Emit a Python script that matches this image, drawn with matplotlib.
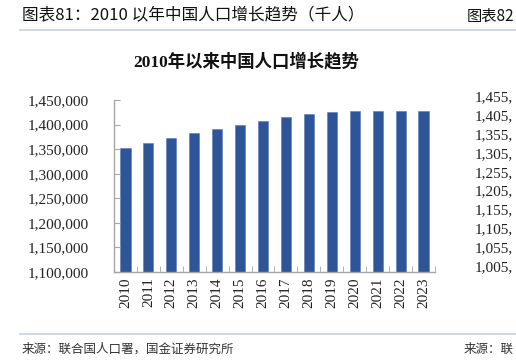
import numpy as np
import matplotlib
matplotlib.use("Agg")
import matplotlib.pyplot as plt
from matplotlib.lines import Line2D
from matplotlib.ticker import FuncFormatter

years = ['2010', '2011', '2012', '2013', '2014', '2015', '2016',
         '2017', '2018', '2019', '2020', '2021', '2022', '2023']
population = [1352900, 1362500, 1372700, 1382200, 1390300, 1399100, 1407300,
              1415400, 1421500, 1425600, 1427600, 1427600, 1427600, 1427000]
yticks = [1100000, 1150000, 1200000, 1250000, 1300000, 1350000, 1400000, 1450000]
# labels of the next chart, as far as they show before the page edge
right_labels = ['1,455,', '1,405,', '1,355,', '1,305,', '1,255,',
                '1,205,', '1,155,', '1,105,', '1,055,', '1,005,']

serif = ['Liberation Serif', 'Noto Sans CJK SC']
cjk = ['Noto Sans CJK SC', 'DejaVu Sans']

W, H = 516, 360
fig = plt.figure(figsize=(W / 100, H / 100), dpi=100)
ax = fig.add_axes([114 / W, 1 - 272 / H, 321 / W, 172 / H])

x = np.arange(len(years))
ax.bar(x, population, width=0.44, color='#2E5597', edgecolor='#5a7bb8', linewidth=0.4)
ax.set_xlim(-0.5, len(years) - 0.5)
ax.set_ylim(1100000, 1450000)
ax.set_yticks(yticks)
ax.yaxis.set_major_formatter(FuncFormatter(lambda v, p: f'{int(v):,}'))
ax.set_xticks(x)
ax.set_xticklabels(years, rotation=90, family=serif, fontsize=11, color='#222222')
for lab in ax.get_yticklabels():
    lab.set_family(serif)
    lab.set_fontsize(11)
    lab.set_color('#222222')
ax.set_xticks(np.arange(len(years) + 1) - 0.5, minor=True)
ax.tick_params(axis='x', which='major', length=0, pad=4)
ax.tick_params(axis='x', which='minor', direction='in', length=4, color='#a6a6a6')
ax.tick_params(axis='y', direction='in', length=4, color='#a6a6a6', pad=18)
for s in ['top', 'right']:
    ax.spines[s].set_visible(False)
for s in ['left', 'bottom']:
    ax.spines[s].set_color('#a6a6a6')
    ax.spines[s].set_linewidth(1)

# chart title
fig.text(246 / W, 1 - 62 / H, '2010年以来中国人口增长趋势', family=serif,
         fontsize=12.5, fontweight='bold', ha='center', va='center', color='#111111')

# page header / footer
fig.text(22 / W, 1 - 16 / H, '图表81：2010 以年中国人口增长趋势（千人）', family=cjk,
         fontsize=12, ha='left', va='center', color='#111111')
fig.text(514 / W, 1 - 16 / H, '图表82', family=cjk,
         fontsize=11, ha='right', va='center', color='#111111')
fig.add_artist(Line2D([20 / W, 1], [1 - 30 / H, 1 - 30 / H], color='#c5d3e0', lw=1.2))
fig.add_artist(Line2D([20 / W, 1], [1 - 334 / H, 1 - 334 / H], color='#c5d3e0', lw=1.2))
fig.text(22 / W, 1 - 349 / H, '来源：联合国人口署，国金证券研究所', family=cjk,
         fontsize=9, ha='left', va='center', color='#333333')
fig.text(514 / W, 1 - 349 / H, '来源：联', family=cjk,
         fontsize=9, ha='right', va='center', color='#333333')

# neighbouring chart axis labels
for i, lab in enumerate(right_labels):
    fig.text(475 / W, 1 - (98 + i * 18.8) / H, lab, family=serif,
             fontsize=11, ha='left', va='center', color='#222222')

fig.savefig('out.png', dpi=100)
